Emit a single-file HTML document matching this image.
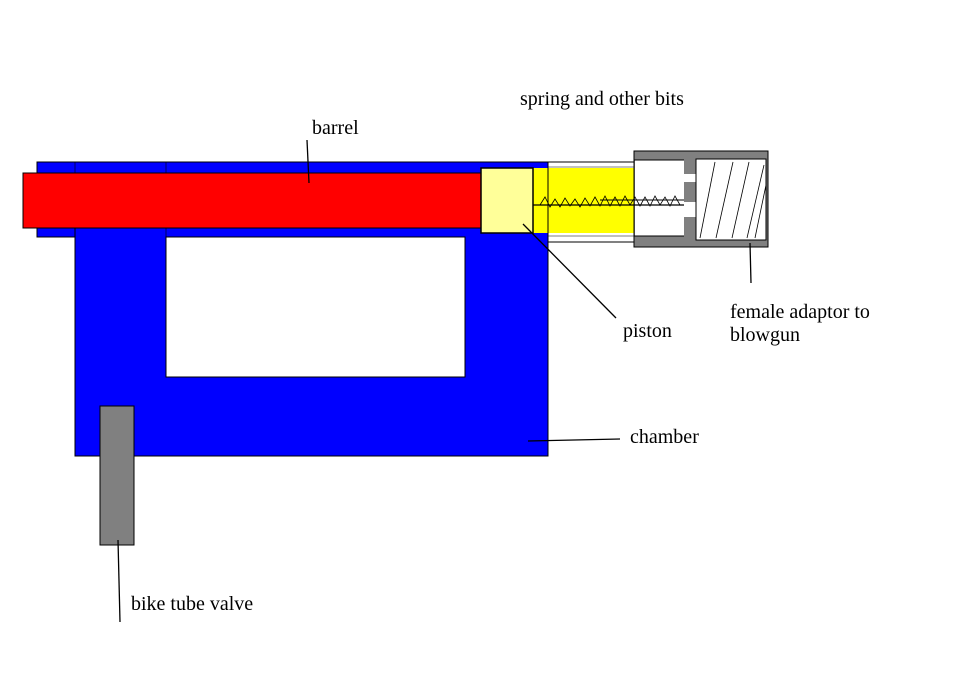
<!DOCTYPE html>
<html><head><style>body{margin:0;background:#fff}svg{display:block}text{font-family:"Liberation Serif",serif;font-size:20px;fill:#000}</style></head>
<body>
<svg width="957" height="680" viewBox="0 0 957 680">
<rect x="0" y="0" width="957" height="680" fill="#fff"/>
<rect x="37" y="162" width="511" height="75" fill="#0000ff" stroke="#000" stroke-width="1"/>
<rect x="75" y="228" width="473" height="228" fill="#0000ff" stroke="#000" stroke-width="1"/>
<rect x="76" y="225" width="471" height="10" fill="#0000ff"/>
<line x1="75" y1="162" x2="75" y2="237" stroke="#000" stroke-width="0.6"/>
<line x1="166" y1="162" x2="166" y2="237" stroke="#000" stroke-width="0.6"/>
<rect x="166" y="237" width="299" height="140" fill="#fff" stroke="#000" stroke-width="1"/>
<rect x="23" y="173" width="459" height="55" fill="#ff0000" stroke="#000" stroke-width="1"/>
<rect x="533" y="168" width="101" height="65" fill="#ffff00"/>
<line x1="548" y1="162" x2="684" y2="162" stroke="#000"/>
<line x1="548" y1="242" x2="684" y2="242" stroke="#000"/>
<line x1="548" y1="167" x2="684" y2="167" stroke="#000" stroke-width="0.6"/>
<line x1="548" y1="236" x2="684" y2="236" stroke="#000" stroke-width="0.6"/>
<line x1="548" y1="162" x2="548" y2="242" stroke="#000"/>
<rect x="634" y="151" width="134" height="96" fill="#808080" stroke="#000"/>
<rect x="635" y="160" width="49" height="76" fill="#fff"/>
<rect x="684" y="174" width="13" height="8" fill="#fff"/>
<rect x="684" y="202" width="13" height="15" fill="#fff"/>
<rect x="696" y="159" width="70" height="81" fill="#fff" stroke="#000"/>
<line x1="634" y1="160" x2="684" y2="160" stroke="#000"/>
<line x1="634" y1="236" x2="684" y2="236" stroke="#000"/>
<g stroke="#000" stroke-width="0.8">
<line x1="715" y1="162" x2="700" y2="238"/><line x1="733" y1="162" x2="716" y2="238"/>
<line x1="749" y1="162" x2="732" y2="238"/><line x1="764" y1="165" x2="747" y2="238"/>
<line x1="766" y1="185" x2="755" y2="238"/>
</g>
<rect x="481" y="168" width="52" height="65" fill="#ffff99" stroke="#000" stroke-width="1.5"/>
<line x1="533" y1="205" x2="684" y2="205" stroke="#000" stroke-width="1.2"/>
<line x1="600" y1="200" x2="684" y2="200" stroke="#000" stroke-width="1"/>
<polyline points="540,205 545,197 550,207 555,199 560,207 565,198 570,206 575,199 580,207 585,198 590,206 595,197 600,206 605,196 610,206 615,197 620,206 625,196 630,205 635,197 640,206 645,197 650,206 655,196 660,205 665,197 670,206 675,196 680,205" fill="none" stroke="#000" stroke-width="0.8"/>
<rect x="100" y="406" width="34" height="139" fill="#808080" stroke="#000"/>
<g stroke="#000" stroke-width="1.3" fill="none">
<line x1="307" y1="140" x2="309" y2="183"/>
<line x1="523" y1="224" x2="616" y2="318"/>
<line x1="750" y1="243" x2="751" y2="283"/>
<line x1="528" y1="441" x2="620" y2="439"/>
<line x1="118" y1="540" x2="120" y2="622"/>
</g>
<text x="312" y="134">barrel</text>
<text x="520" y="105">spring and other bits</text>
<text x="623" y="337">piston</text>
<text x="730" y="318">female adaptor to</text>
<text x="730" y="341">blowgun</text>
<text x="630" y="443">chamber</text>
<text x="131" y="610">bike tube valve</text>
</svg>
</body></html>
